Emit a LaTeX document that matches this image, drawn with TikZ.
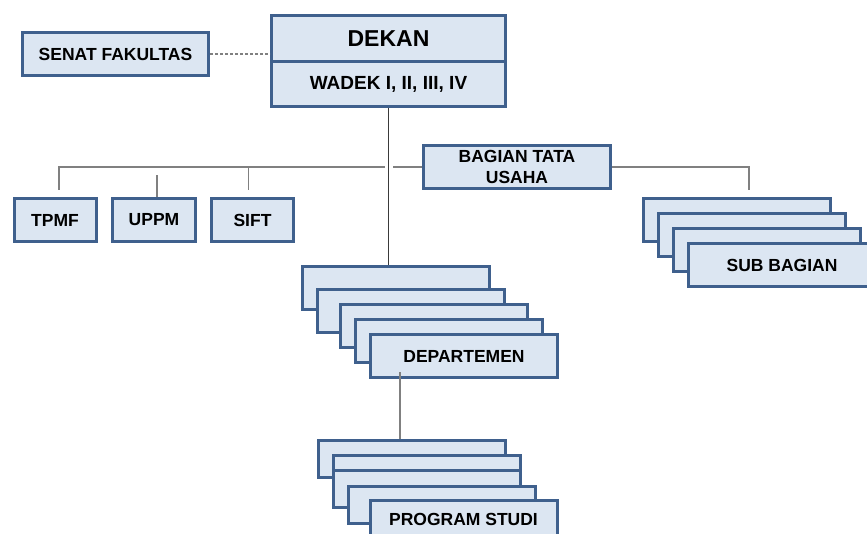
\documentclass[tikz,border=0pt]{standalone}
\usepackage{fontspec}
\setmainfont{Liberation Sans}
\usetikzlibrary{positioning, calc}
\definecolor{boxfill}{HTML}{DCE6F2}
\definecolor{boxedge}{HTML}{3F608D}
\definecolor{linkgray}{HTML}{808080}
\definecolor{linkdark}{HTML}{3A3A3A}

\begin{document}
\begin{tikzpicture}[x=1pt, y=-1pt, font=\bfseries\fontsize{17.5}{21}\selectfont,
    unit/.style={rectangle, draw=boxedge, fill=boxfill, line width=3pt, inner sep=2pt, align=center},
    smallunit/.style={unit, minimum width=82pt, minimum height=43pt},
    wideunit/.style={unit, minimum width=187pt, minimum height=43pt},
    progunit/.style={unit, minimum width=187pt, minimum height=37pt},
    link/.style={draw=linkgray, line width=1.2pt},
    mainlink/.style={draw=linkdark, line width=1.1pt}]

    \useasboundingbox (0,0) rectangle (867,534);
    \clip (0,0) rectangle (867,534);

    \node (senat) [unit, minimum width=186pt, minimum height=43pt] at (115.5,54) {SENAT FAKULTAS};
    \node (dekan) [unit, minimum width=234pt, minimum height=46pt, font=\bfseries\fontsize{23}{25}\selectfont] at (388.5,39) {DEKAN};
    \node (wadek) [unit, minimum width=234pt, minimum height=45pt, font=\bfseries\fontsize{19}{21}\selectfont] at (388.5,84.5) {WADEK I, II, III, IV};

    \node (bagian) [wideunit] at (517,167) {BAGIAN TATA\\USAHA};
    \node (tpmf) [smallunit] at (55,220) {TPMF};
    \node (uppm) [smallunit, minimum width=83pt] at (154,220) {UPPM};
    \node (sift) [smallunit] at (252.5,220) {SIFT};

    \foreach \n/\x/\y in {1/737/220, 2/752/235, 3/767/250}
      \node (sub\n) [wideunit] at (\x,\y) {};
    \node (sub4) [wideunit] at (782,265) {SUB BAGIAN};

    \foreach \n/\x/\y in {1/396/288, 2/411/311, 3/434/326, 4/449/341}
      \node (dep\n) [wideunit] at (\x,\y) {};
    \node (dep5) [wideunit] at (464,356) {DEPARTEMEN};

    \foreach \n/\x/\y in {1/411.5/459, 2/426.5/474, 3/426.5/489, 4/442/505}
      \node (prog\n) [progunit] at (\x,\y) {};
    \node (prog5) [progunit] at (463.5,519) {PROGRAM STUDI};

    \coordinate (gapl) at (385,167);
    \coordinate (gapr) at (393,167);
    \coordinate (tpmftop) at ($(tpmf.north)+(4,0)$);
    \coordinate (uppmtop) at ($(uppm.north)+(3,0)$);
    \coordinate (sifttop) at ($(sift.north)+(-4,0)$);
    \coordinate (subtop) at ($(sub1.north)+(12,0)$);
    \coordinate (depfoot) at ($(dep5.south west)+(31,-7)$);

    \draw [link, dash pattern=on 3pt off 2pt] (senat.east) -- (senat.east -| dekan.west);
    \draw [mainlink] (wadek.south) -- (wadek.south |- dep1.north);
    \draw [link, shorten <=7pt] (tpmftop) |- (gapl);
    \draw [link] (gapr) -- (bagian.west);
    \draw [link, shorten <=7pt] (sifttop) -- (sifttop |- gapl);
    \draw [link, shorten >=8pt] (uppmtop) -- (uppmtop |- gapl);
    \draw [link, shorten >=7pt] (bagian.east) -| (subtop);
    \draw [link] (depfoot) -- (depfoot |- prog1.north);
\end{tikzpicture}
\end{document}
